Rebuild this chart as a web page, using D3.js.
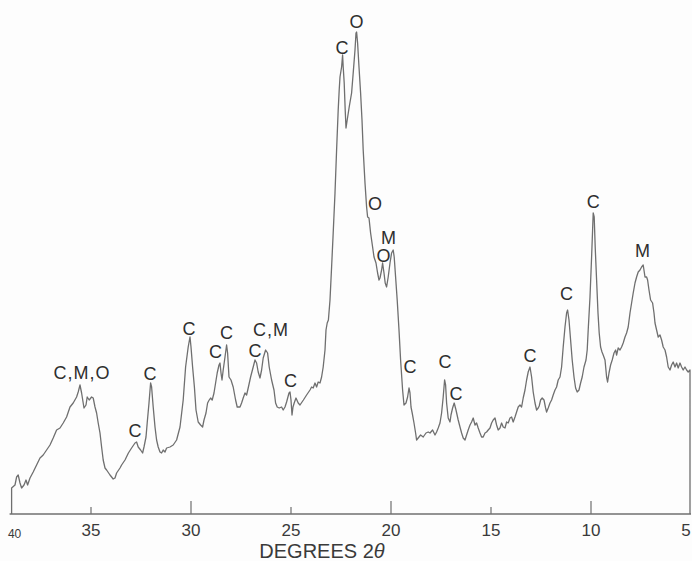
<!DOCTYPE html>
<html>
<head>
<meta charset="utf-8">
<script src="https://cdn.jsdelivr.net/npm/d3@7"></script>
<style>
html,body{margin:0;padding:0;background:#fdfdfd;}
svg{display:block;}
text{font-family:"Liberation Sans",Arial,Helvetica,sans-serif;}
</style>
</head>
<body>
<svg id="chart" width="692" height="561"></svg>
<script>
// Diffraction angle (degrees 2θ) and relative intensity
const degrees = [38.97,38.97,38.80,38.72,38.64,38.55,38.47,38.35,38.25,38.17,38.05,37.89,37.72,37.55,37.39,37.22,37.05,36.89,36.72,36.55,36.39,36.22,36.05,35.89,35.72,35.64,35.55,35.47,35.35,35.25,35.19,35.09,34.97,34.89,34.80,34.72,34.64,34.55,34.47,34.39,34.30,34.22,34.05,33.89,33.80,33.72,33.55,
33.47,33.30,33.13,32.97,32.80,32.72,32.64,32.52,32.42,32.35,32.25,32.19,32.10,32.02,31.97,31.89,31.80,31.72,31.64,31.55,31.47,31.39,31.30,31.22,31.05,30.89,30.72,30.55,30.39,30.27,30.14,30.05,30.00,29.92,29.83,29.75,29.64,29.52,29.42,29.35,29.25,29.17,29.09,29.02,28.94,28.85,28.77,28.69,28.60,28.55,28.50,28.45,28.39,28.30,28.22,28.17,28.10,28.00,27.89,27.77,27.69,27.55,27.47,27.39,27.30,27.22,27.14,27.02,26.89,26.80,26.72,26.64,26.55,26.47,26.39,26.27,26.17,26.09,25.97,25.85,25.77,25.69,25.59,25.47,25.39,25.30,25.22,25.10,25.05,25.00,24.95,24.90,24.84,24.75,24.64,
24.55,24.38,24.22,24.05,23.97,23.89,23.80,23.72,23.64,23.55,23.47,23.39,23.30,23.25,23.19,23.13,23.05,22.97,22.89,22.80,22.72,22.64,22.59,22.55,22.47,22.42,22.39,22.34,22.29,22.25,22.19,22.09,21.97,21.89,21.80,21.75,21.72,21.67,21.60,21.52,21.45,21.39,21.30,21.22,21.17,21.10,21.02,20.92,20.85,20.75,20.67,20.60,20.55,20.47,20.42,20.35,20.29,20.22,20.14,20.05,19.97,19.89,19.84,19.77,19.69,19.60,19.52,19.42,19.35,19.25,19.17,19.10,19.05,19.00,18.94,18.85,18.77,18.72,18.64,18.52,18.39,18.25,18.14,
18.05,17.92,17.80,17.72,17.64,17.55,17.47,17.39,17.32,17.27,17.22,17.14,17.05,17.00,16.92,16.84,16.75,16.64,16.55,16.47,16.39,16.30,16.22,16.14,16.05,15.97,15.89,15.80,15.72,15.64,15.55,15.47,15.39,15.30,15.22,15.14,15.05,14.97,14.89,14.80,14.72,14.64,14.55,14.47,14.39,14.30,14.22,14.14,14.05,13.97,13.89,13.80,13.72,13.64,13.55,13.47,13.39,13.30,13.22,13.14,13.05,12.97,12.89,12.80,12.72,12.64,12.59,12.52,12.44,12.35,12.27,12.22,12.14,12.05,11.97,11.89,11.80,11.72,11.64,
11.55,11.47,11.39,11.30,11.22,11.17,11.10,11.02,10.94,10.85,10.77,10.69,10.60,10.52,10.44,10.35,10.25,10.19,10.14,10.05,9.97,9.92,9.89,9.84,9.79,9.72,9.65,9.59,9.52,9.45,9.39,9.30,9.22,9.17,9.10,9.02,8.94,8.85,8.77,8.72,8.64,8.55,8.47,8.39,8.30,8.22,8.14,8.05,7.97,7.89,7.80,7.72,7.64,7.55,7.47,7.39,7.30,7.22,7.17,7.10,7.02,6.92,6.85,6.80,6.72,6.64,6.55,6.47,6.39,6.30,6.22,6.14,6.05,5.97,5.89,5.80,5.72,5.64,5.55,5.47,5.39,5.30,5.22,5.14,5.05,5.05];

const intensity = [0,26,29,37,39,31,26,29,34,29,36,42,49,56,59,64,69,76,84,86,91,97,107,111,117,122,129,121,106,109,117,114,117,116,107,101,91,81,67,54,46,44,39,35,36,41,46,
49,54,61,66,71,72,67,64,61,67,77,91,111,131,127,107,87,74,67,62,61,64,62,66,67,69,74,87,114,147,167,177,167,147,127,104,92,89,87,94,101,111,114,116,114,121,131,141,149,151,141,134,144,157,169,161,137,134,127,114,107,107,111,116,121,119,126,137,147,154,151,142,136,144,156,164,161,147,134,124,111,107,106,107,104,107,112,121,122,114,99,107,111,116,111,
109,114,119,124,127,126,131,127,132,131,137,147,164,184,191,194,214,247,281,321,364,404,424,437,447,459,447,431,404,386,394,407,421,441,464,481,482,471,447,421,394,364,331,307,297,296,281,267,257,251,241,234,236,244,251,241,231,227,237,251,261,264,257,237,214,184,154,124,109,111,117,126,121,107,101,91,81,74,76,79,77,81,82,
81,84,79,82,86,91,101,117,134,129,111,96,92,99,106,111,104,94,87,81,76,74,79,84,89,92,96,89,91,86,81,77,77,81,82,84,86,91,94,96,89,84,86,91,87,86,92,91,96,97,92,97,102,107,109,107,116,124,134,142,147,137,122,111,104,106,108,114,116,114,106,102,106,111,114,119,124,127,134,
137,147,167,187,201,204,194,174,154,137,126,122,124,131,137,147,154,164,184,217,257,284,301,297,267,234,201,181,167,162,159,154,137,132,141,149,154,161,164,159,166,164,167,171,177,181,187,201,211,221,231,237,242,244,247,249,237,237,234,224,214,211,201,191,184,177,179,174,167,164,157,147,144,149,152,147,151,146,151,147,144,147,144,142,144,0];

// Phase labels: C, M, O (text, degrees 2θ, intensity of label baseline)
const labelText = ["C,M,O","C","C","C","C","C","C","C,M","C","C","O","O","M","O","C","C","C","C","C","C","M"];
const labelDeg  = [35.45,32.80,32.05,30.10,28.77,28.22,26.80,26.00,25.02,22.45,21.72,20.80,20.13,20.38,19.05,17.30,16.75,13.05,11.22,9.89,7.42];
const labelInt  = [135.5,77.5,134.5,179.5,155.8,175.2,157.5,178.5,127.5,460.5,486.5,304.2,270.2,252.5,140.8,145.8,114.2,152.5,214.2,305.8,257.5];

// Axis ticks
const majorTicks = [30,20,10];
const minorTicks = [35,25,15];
const tickLabels = [40,35,30,25,20,15,10,5];

const svg = d3.select("#chart");
const x = d3.scaleLinear().domain([30,5]).range([191,691]);
const y = d3.scaleLinear().domain([0,500]).range([514,14]);

const lineColor = "#6f6f6f";
const xLeft = x(degrees[0]);

// axis baseline
svg.append("line")
  .attr("x1", xLeft - 2).attr("x2", x(5))
  .attr("y1", y(0)).attr("y2", y(0))
  .attr("stroke", lineColor).attr("stroke-width", 1.3);

// ticks
svg.selectAll(".major").data(majorTicks).enter().append("line")
  .attr("x1", d => x(d)).attr("x2", d => x(d))
  .attr("y1", y(0)).attr("y2", y(0) - 13)
  .attr("stroke", lineColor).attr("stroke-width", 1.2);
svg.selectAll(".minor").data(minorTicks).enter().append("line")
  .attr("x1", d => x(d)).attr("x2", d => x(d))
  .attr("y1", y(0)).attr("y2", y(0) - 7)
  .attr("stroke", lineColor).attr("stroke-width", 1.2);

// tick labels
svg.selectAll(".tl").data(tickLabels).enter().append("text")
  .attr("x", d => d === 40 ? xLeft + 3 : (d === 5 ? x(d) - 5 : x(d)))
  .attr("y", d => d === 40 ? 538 : 536)
  .attr("text-anchor", "middle")
  .attr("font-size", d => d === 40 ? 12 : 17)
  .attr("fill", "#3a3a3a")
  .text(d => d);

// axis title
const title = svg.append("text")
  .attr("x", 322).attr("y", 558)
  .attr("text-anchor", "middle")
  .attr("font-size", 20)
  .attr("fill", "#3a3a3a");
title.append("tspan").text("DEGREES 2");
title.append("tspan").attr("font-style", "italic").text("\u03B8");

// diffraction trace
const pts = degrees.map((d, i) => [d, intensity[i]]);
svg.append("path")
  .datum(pts)
  .attr("fill", "none")
  .attr("stroke", lineColor)
  .attr("stroke-width", 1.3)
  .attr("stroke-linejoin", "round")
  .attr("d", d3.line().x(d => x(d[0])).y(d => y(d[1])));

// peak labels
svg.selectAll(".pl").data(labelText).enter().append("text")
  .attr("x", (d, i) => x(labelDeg[i]))
  .attr("y", (d, i) => y(labelInt[i]))
  .attr("text-anchor", "middle")
  .attr("font-size", 18)
  .attr("letter-spacing", d => d.length > 1 ? 1 : 0)
  .attr("fill", "#2e2e2e")
  .text(d => d);
</script>
</body>
</html>
